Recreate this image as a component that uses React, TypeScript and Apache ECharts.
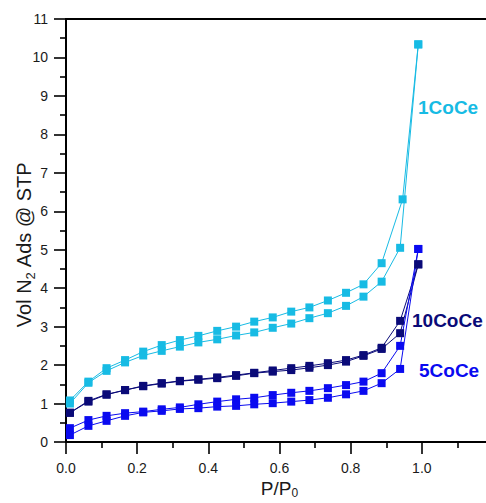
import React, { useEffect, useRef } from "react";
import * as echarts from "echarts";

// Relative pressure values (P/P0)
const pAds = [0.011, 0.063, 0.114, 0.166, 0.217, 0.269, 0.32, 0.372, 0.425, 0.478, 0.529, 0.581, 0.633, 0.684, 0.736, 0.787, 0.836, 0.887, 0.939, 0.99];
const pDes = [0.011, 0.063, 0.114, 0.166, 0.217, 0.269, 0.32, 0.372, 0.425, 0.478, 0.529, 0.581, 0.633, 0.684, 0.736, 0.787, 0.836, 0.887, 0.946, 0.99];

// 1CoCe
const v1Upper = [1.08, 1.57, 1.92, 2.13, 2.35, 2.52, 2.65, 2.76, 2.89, 3.0, 3.13, 3.24, 3.39, 3.5, 3.68, 3.88, 4.1, 4.65, 6.31, 10.34];
const v1Lower = [1.0, 1.54, 1.85, 2.07, 2.25, 2.37, 2.48, 2.59, 2.67, 2.77, 2.85, 2.97, 3.08, 3.22, 3.35, 3.54, 3.78, 4.17, 5.05, 10.34];
// 10CoCe
const v10Upper = [0.76, 1.07, 1.24, 1.35, 1.46, 1.53, 1.59, 1.63, 1.68, 1.74, 1.8, 1.86, 1.92, 1.98, 2.05, 2.13, 2.26, 2.45, 3.15, 4.62];
const v10Lower = [0.76, 1.05, 1.23, 1.35, 1.45, 1.52, 1.58, 1.62, 1.66, 1.72, 1.79, 1.83, 1.87, 1.93, 2.0, 2.09, 2.24, 2.42, 2.83, 4.62];
// 5CoCe
const v5Upper = [0.36, 0.57, 0.68, 0.75, 0.79, 0.85, 0.9, 0.98, 1.05, 1.11, 1.15, 1.22, 1.28, 1.33, 1.4, 1.48, 1.57, 1.79, 2.5, 5.02];
const v5Lower = [0.18, 0.42, 0.55, 0.68, 0.77, 0.81, 0.86, 0.88, 0.92, 0.94, 0.98, 1.01, 1.05, 1.09, 1.15, 1.24, 1.33, 1.53, 1.9, 5.02];

const sampleNames = ["1CoCe", "10CoCe", "5CoCe"];
const colors = ["#17BBE4", "#0A0A78", "#0A0AF0"];

const FONT = "'Liberation Sans', Arial, sans-serif";

function pairs(xs: number[], ys: number[]) {
  return ys.map((y, i) => [xs[i], y]);
}

export default function App() {
  const ref = useRef<HTMLDivElement>(null);
  useEffect(() => {
    if (!ref.current) return;
    const chart = echarts.init(ref.current, null, { renderer: "svg" });
    const branches = [
      { name: sampleNames[0], color: colors[0], data: pairs(pDes, v1Upper) },
      { name: sampleNames[0], color: colors[0], data: pairs(pAds, v1Lower) },
      { name: sampleNames[1], color: colors[1], data: pairs(pAds, v10Upper) },
      { name: sampleNames[1], color: colors[1], data: pairs(pAds, v10Lower) },
      { name: sampleNames[2], color: colors[2], data: pairs(pAds, v5Upper) },
      { name: sampleNames[2], color: colors[2], data: pairs(pAds, v5Lower) },
    ];
    const axisCommon = {
      axisLine: { show: true, lineStyle: { color: "#000", width: 2 } },
      axisTick: { show: true, inside: false, length: 12, lineStyle: { color: "#000", width: 1.6 } },
      minorTick: { show: true, splitNumber: 2, length: 6, lineStyle: { color: "#000", width: 1.6 } },
      splitLine: { show: false },
      minorSplitLine: { show: false },
    };
    chart.setOption({
      animation: false,
      backgroundColor: "#fff",
      grid: {
        left: 66,
        right: 7,
        top: 19,
        bottom: 61,
        show: true,
        borderColor: "#000",
        borderWidth: 2,
        outerBoundsMode: "none",
      },
      xAxis: {
        type: "value",
        min: 0,
        max: 1.2,
        interval: 0.2,
        ...axisCommon,
        axisLabel: {
          margin: 19,
          fontSize: 14,
          fontFamily: FONT,
          color: "#1a1a1a",
          showMaxLabel: false,
          formatter: (v: number) => v.toFixed(1),
        },
        name: "{a|P/P}{s|0}",
        nameLocation: "middle",
        nameMoveOverlap: false,
        nameGap: 35,
        nameTextStyle: {
          rich: {
            a: { fontSize: 19, fontFamily: FONT, color: "#1a1a1a" },
            s: { fontSize: 12, fontFamily: FONT, color: "#1a1a1a", padding: [10, 0, 0, 0] },
          },
        },
      },
      yAxis: {
        type: "value",
        min: 0,
        max: 11,
        interval: 1,
        ...axisCommon,
        axisLabel: {
          margin: 18,
          fontSize: 14,
          fontFamily: FONT,
          color: "#1a1a1a",
        },
        name: "{a|Vol N}{s|2}{a| Ads @ STP}",
        nameLocation: "middle",
        nameMoveOverlap: false,
        nameGap: 29,
        nameTextStyle: {
          padding: [0, 28, 0, 0],
          rich: {
            a: { fontSize: 20, fontFamily: FONT, color: "#1a1a1a" },
            s: { fontSize: 13, fontFamily: FONT, color: "#1a1a1a", padding: [14, 0, 0, 0] },
          },
        },
      },
      graphic: [
        {
          type: "text",
          left: 418,
          top: 98,
          style: { text: sampleNames[0], fill: colors[0], font: `bold 19px ${FONT}` },
        },
        {
          type: "text",
          left: 412,
          top: 311,
          style: { text: sampleNames[1], fill: colors[1], font: `bold 19px ${FONT}` },
        },
        {
          type: "text",
          left: 419,
          top: 361,
          style: { text: sampleNames[2], fill: colors[2], font: `bold 19px ${FONT}` },
        },
      ],
      series: branches.map((b) => ({
        type: "line",
        name: b.name,
        data: b.data,
        symbol: "rect",
        symbolSize: 8,
        showSymbol: true,
        itemStyle: { color: b.color },
        lineStyle: { color: b.color, width: 1 },
        z: 3,
      })),
    });
    return () => chart.dispose();
  }, []);
  return (
    <div style={{ position: "absolute", left: 0, top: 0, width: 486, height: 503, overflow: "hidden", background: "#fff" }}>
      <div ref={ref} style={{ width: 500, height: 503 }} />
    </div>
  );
}
